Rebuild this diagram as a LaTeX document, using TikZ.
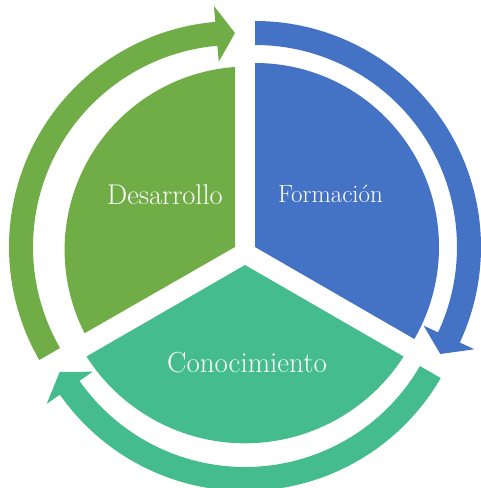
\documentclass[tikz,border=0pt]{standalone}
\usetikzlibrary{calc}
\definecolor{formblue}{HTML}{4472C4}
\definecolor{desgreen}{HTML}{70AD47}
\definecolor{congreen}{HTML}{44BC8D}

\begin{document}
\begin{tikzpicture}[
  x=1pt, y=1pt,
  slice/.style={fill=#1, draw=none},
  stxt/.style={text=white, anchor=base, inner sep=0pt,
               font=\fontsize{#1}{#1}\selectfont}
]
\useasboundingbox (0,0) rectangle (481,-488);
\fill[slice=formblue] (255,-247) -- (255,-63)
  arc[start angle=90, end angle=-30, radius=184] -- cycle;
\fill[slice=desgreen] (235,-247) -- (235,-67)
  arc[start angle=94.06, end angle=207, radius=183.4] -- cycle;
\fill[slice=congreen] (245,-265) -- (86.5,-356.5)
  arc[start angle=212.6, end angle=327.4, radius=188.2] -- cycle;
\foreach \cx/\cy/\a/\col in {255/-247/90/formblue, 235/-247/210/desgreen,
                             245/-265/-30/congreen}{
  \fill[slice=\col] ($(\cx,\cy)+(\a:226)$)
    arc[start angle=\a, end angle=\a-115, radius=226]
    -- ($(\cx,\cy)+(\a-115:242)$) -- ($(\cx,\cy)+(\a-120:214)$)
    -- ($(\cx,\cy)+(\a-115:186)$) -- ($(\cx,\cy)+(\a-115:202)$)
    arc[start angle=\a-115, end angle=\a, radius=202] -- cycle;
}
\node[stxt=28.5] (des) at (165,-204) {Desarrollo};
\node[stxt=25] (form) at (330.5,-202) {Formación};
\node[stxt=29] (con) at (247,-372.5) {Conocimiento};
\end{tikzpicture}
\end{document}
